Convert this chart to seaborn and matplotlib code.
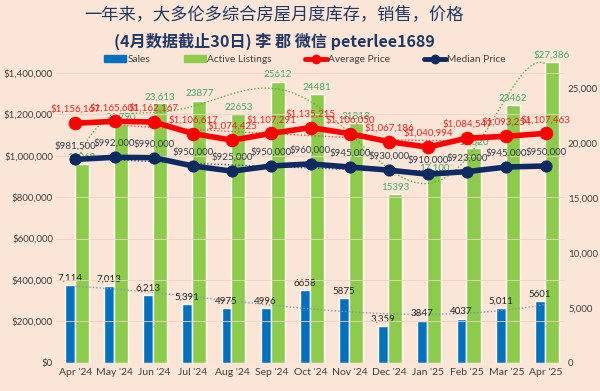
import numpy as np
import pandas as pd
import seaborn as sns
import matplotlib.pyplot as plt
from matplotlib.lines import Line2D
from matplotlib.patches import Patch
from matplotlib.ticker import FuncFormatter

months = ["Apr '24", "May '24", "Jun '24", "Jul '24", "Aug '24", "Sep '24", "Oct '24",
          "Nov '24", "Dec '24", "Jan '25", "Feb '25", "Mar '25", "Apr '25"]
sales = [7114, 7013, 6213, 5391, 4975, 4996, 6658, 5875, 3359, 3847, 4037, 5011, 5601]
listings = [18068, 21790, 23613, 23877, 22653, 25612, 24481, 21818, 15393, 17100, 19520, 23462, 27386]
avg_price = [1156167, 1165601, 1162167, 1106617, 1074425, 1107291, 1135215, 1106050,
             1067186, 1040994, 1084547, 1093254, 1107463]
median_price = [981500, 992000, 990000, 950000, 925000, 950000, 960000, 945000,
                930000, 910000, 923000, 945000, 950000]

sales_lbl = ["7,114", "7,013", "6,213", "5,391", "4975", "4996", "6658", "5875",
             "3,359", "3847", "4037", "5,011", "5601"]
list_lbl = ["18068", "21,790", "23,613", "23877", "22653", "25612", "24481", "21818",
            "15393", "17,100", "19,520", "23462", "$27,386"]

BG = "#FBE5D6"
BLUE = "#0070C0"
GREEN = "#8DCB4A"
RED = "#FF0000"
NAVY = "#0D2A63"

df = pd.DataFrame({"month": months, "x": np.arange(len(months)), "sales": sales,
                   "listings": listings, "avg": avg_price, "median": median_price})

sns.set_theme(style="white")
plt.rcParams["font.family"] = ["Lato", "DejaVu Sans"]

fig = plt.figure(figsize=(6, 3.91), dpi=100, facecolor=BG)
ax2 = fig.add_axes([0.093, 0.072, 0.849, 0.795])
ax = ax2.twinx()
ax2.set_facecolor(BG)
ax.set_zorder(ax2.get_zorder() + 1)
ax.patch.set_visible(False)

x = df["x"].values

# bars on count axis (right side)
ax2.bar(x - 0.27, df["sales"], width=0.25, align="edge", color=BLUE, zorder=2)
ax2.bar(x - 0.02, df["listings"], width=0.36, align="edge", color=GREEN, zorder=2)
ax2.set_ylim(0, 28300)
ax2.yaxis.tick_right()
ax2.yaxis.set_label_position("right")
ax2.set_yticks(range(0, 25001, 5000))
ax2.yaxis.set_major_formatter(FuncFormatter(lambda v, p: f"{int(v):,}"))

# price lines on left axis
ax.yaxis.tick_left()
ax.set_ylim(0, 1500000)
ax.set_yticks(range(0, 1400001, 200000))
ax.yaxis.set_major_formatter(FuncFormatter(lambda v, p: f"${int(v):,}"))
for yv in range(200000, 1400001, 200000):
    ax.axhline(yv, color="#EDD3C2", lw=0.6, zorder=0)

sns.lineplot(data=df, x="x", y="avg", ax=ax, color=RED, lw=4, marker="o",
             markersize=9, markeredgecolor=RED, zorder=4)
sns.lineplot(data=df, x="x", y="median", ax=ax, color=NAVY, lw=4, marker="o",
             markersize=8, markeredgecolor=NAVY, zorder=4)

# polynomial trendlines (Excel style)
xs = np.linspace(0, 12, 200)
for col, deg, c, axis in [("listings", 6, "#5DAA3C", ax2), ("sales", 3, "#8496B0", ax2),
                          ("avg", 4, "#E05050", ax), ("median", 4, "#3A4F80", ax)]:
    coef = np.polyfit(x, df[col].values, deg)
    axis.plot(xs, np.polyval(coef, xs), ls=(0, (1, 1.5)), lw=1.0, color=c, zorder=3)

# data labels
for i in range(len(months)):
    ax.annotate(f"${avg_price[i]:,}", (x[i], avg_price[i]), xytext=(0, 8),
                textcoords="offset points", ha="center", fontsize=7, color="#F02020", zorder=6)
    ax.annotate(f"${median_price[i]:,}", (x[i], median_price[i]), xytext=(0, 8),
                textcoords="offset points", ha="center", fontsize=7, color="#333F50", zorder=6)
    ax2.annotate(list_lbl[i], (x[i] + 0.16, listings[i]), xytext=(0, 3),
                 textcoords="offset points", ha="center", fontsize=7, color="#3DAA6A")
    ax2.annotate(sales_lbl[i], (x[i] - 0.145, sales[i]), xytext=(0, 3),
                 textcoords="offset points", ha="center", fontsize=7, color="#262626")

ax.set_xlim(-0.5, 12.5)
ax2.set_xticks(x)
ax2.set_xticklabels(months)
for a in (ax, ax2):
    a.set_xlabel("")
    a.set_ylabel("")
    for s in a.spines.values():
        s.set_visible(False)
    a.tick_params(length=0, labelsize=7, colors="#404040", pad=2)
ax2.tick_params(axis="x", labelsize=7.5, pad=4)
ax2.axhline(0, color="#D9C4B5", lw=0.8)

fig.text(0.457, 0.962, "一年来，大多伦多综合房屋月度库存，销售，价格", ha="center", va="center",
         fontsize=12.4, color="#1F3864", family=["Noto Sans CJK SC", "DejaVu Sans"])
fig.text(0.457, 0.895, "(4月数据截止30日) 李 郡 微信 peterlee1689", ha="center", va="center",
         fontsize=11.6, color="#1F3864", fontweight="bold", family=["Noto Sans CJK SC", "DejaVu Sans"])

handles = [Patch(color=BLUE), Patch(color=GREEN),
           Line2D([], [], color=RED, lw=3.5, marker="o", markersize=6),
           Line2D([], [], color=NAVY, lw=3.5, marker="o", markersize=6)]
fig.legend(handles, ["Sales", "Active Listings", "Average Price", "Median Price"],
           loc="center", bbox_to_anchor=(0.508, 0.847), ncol=4, frameon=False, fontsize=7.3,
           handlelength=2.2, handleheight=0.7, handletextpad=0.1, columnspacing=3.3,
           labelcolor="#404040")

fig.savefig("out.png", dpi=100, facecolor=BG)
